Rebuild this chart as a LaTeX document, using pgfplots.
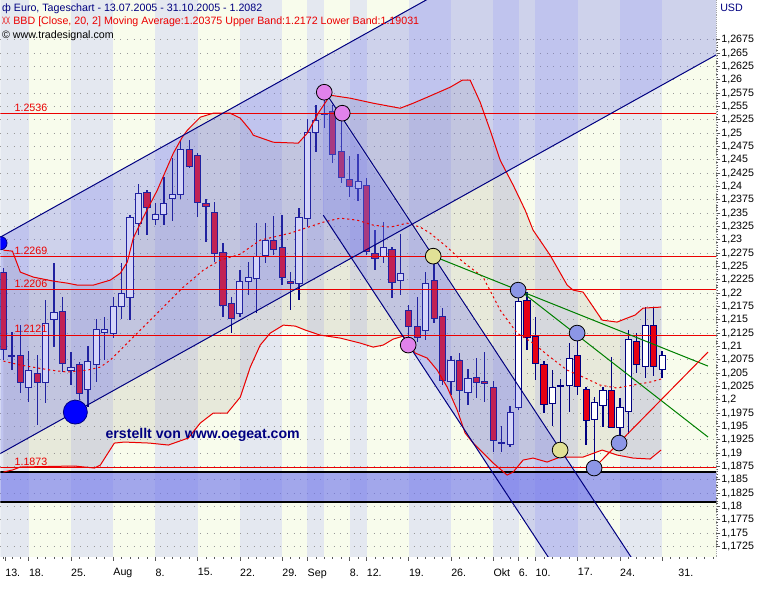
\documentclass[border=0pt]{standalone}
\usepackage{fontspec}
\setmainfont{Liberation Sans}
\usepackage{pgfplots}
\usepackage{pgfplotstable}
\pgfplotsset{compat=1.18}
\usepgfplotslibrary{fillbetween}

\definecolor{navy}{RGB}{0,0,128}
\definecolor{stripeG}{RGB}{228,232,240}
\definecolor{stripeY}{RGB}{248,252,236}
\definecolor{lred}{RGB}{235,0,0}
\definecolor{cred}{RGB}{230,0,20}
\definecolor{chan}{RGB}{110,115,235}
\definecolor{bandfill}{RGB}{150,140,130}
\definecolor{pinkm}{RGB}{225,130,235}
\definecolor{yelm}{RGB}{225,225,150}
\definecolor{lavm}{RGB}{140,150,230}
\definecolor{grn}{RGB}{0,128,0}
\newcommand{\fs}{\fontsize{8}{9.6}\selectfont}

% candles: k O H L C
\pgfplotstableread{
k O H L C
1 1.20820 1.21269 1.20557 1.20838
3 1.20239 1.20913 1.19958 1.20557
5 1.20332 1.21869 1.19939 1.21438
6 1.21513 1.22562 1.20988 1.21644
8 1.20557 1.20895 1.20276 1.20613
10 1.20201 1.21007 1.19864 1.20726
11 1.20670 1.21513 1.20332 1.21325
12 1.21269 1.21550 1.20745 1.21325
13 1.21251 1.21925 1.21157 1.21756
14 1.21756 1.22562 1.21513 1.22000
15 1.21925 1.23461 1.21494 1.23424
16 1.23312 1.24042 1.23087 1.23874
18 1.23387 1.23686 1.23274 1.23480
19 1.23480 1.24173 1.23274 1.23686
20 1.23780 1.24529 1.23349 1.23855
21 1.23855 1.24867 1.23761 1.24698
28 1.21625 1.22431 1.21550 1.22225
29 1.22225 1.22581 1.21963 1.22300
30 1.22281 1.23312 1.21625 1.22693
31 1.22712 1.23312 1.22562 1.22993
35 1.22187 1.23593 1.21869 1.23424
36 1.23405 1.25260 1.23237 1.25017
37 1.25017 1.25523 1.24642 1.25241
38 1.25354 1.25766 1.25092 1.25373
42 1.23967 1.24604 1.23724 1.24099
45 1.22693 1.23330 1.22562 1.22862
47 1.22244 1.23105 1.21963 1.22375
50 1.21307 1.22393 1.21119 1.22187
53 1.20351 1.20820 1.20089 1.20745
55 1.20145 1.20576 1.19901 1.20407
60 1.19171 1.19883 1.19114 1.19770
61 1.19864 1.22056 1.19808 1.21850
65 1.19939 1.20557 1.19508 1.20239
66 1.20257 1.20389 1.19058 1.20276
67 1.20276 1.21063 1.19770 1.20782
70 1.19639 1.20051 1.18721 1.19958
71 1.19901 1.20239 1.19489 1.20183
73 1.19489 1.20033 1.19189 1.19864
74 1.19789 1.21307 1.19358 1.21138
76 1.20632 1.21738 1.20407 1.21400
78 1.20576 1.20913 1.20407 1.20838
}\upc

\pgfplotstableread{
k O H L C
0 1.22393 1.22468 1.20745 1.20951
2 1.20838 1.21400 1.20126 1.20332
4 1.20501 1.20838 1.19527 1.20332
7 1.21663 1.21925 1.20520 1.20688
9 1.20670 1.20707 1.19995 1.20126
17 1.23892 1.23930 1.23087 1.23611
22 1.24698 1.24867 1.24342 1.24380
23 1.24586 1.24623 1.23424 1.23705
24 1.23686 1.23761 1.22956 1.23630
25 1.23518 1.23705 1.22581 1.22749
26 1.22768 1.22937 1.21550 1.21775
27 1.21813 1.21925 1.21251 1.21532
32 1.22993 1.23443 1.22712 1.22824
33 1.22862 1.23461 1.22150 1.22300
34 1.22225 1.22393 1.21681 1.22187
39 1.25410 1.25523 1.24436 1.24604
40 1.24661 1.25373 1.24061 1.24174
41 1.24136 1.24567 1.23799 1.24005
43 1.24024 1.24155 1.22712 1.22787
44 1.22749 1.23180 1.22431 1.22656
46 1.22824 1.22862 1.21906 1.22206
48 1.21681 1.21775 1.21026 1.21382
49 1.21382 1.21925 1.21082 1.21176
51 1.22244 1.22749 1.21438 1.21532
52 1.21569 1.21719 1.20276 1.20370
54 1.20745 1.20876 1.19770 1.20183
56 1.20426 1.20782 1.20033 1.20332
57 1.20351 1.20895 1.19958 1.20314
58 1.20239 1.20351 1.19021 1.19246
59 1.19208 1.19508 1.19021 1.19189
62 1.21869 1.22019 1.20932 1.21176
63 1.21194 1.21550 1.20370 1.20688
64 1.20670 1.20726 1.19752 1.19920
68 1.20838 1.21251 1.20089 1.20257
69 1.20201 1.20239 1.19152 1.19620
72 1.20183 1.20801 1.19470 1.19489
75 1.21101 1.21251 1.20501 1.20670
77 1.21400 1.21738 1.20445 1.20632
}\dnc

\pgfplotstableread{
k v
0 1.22806
1.07 1.22787
2.01 1.22393
3.55 1.22300
5.92 1.22225
7.57 1.22187
8.76 1.22150
10.65 1.22150
12.66 1.22244
13.85 1.22375
14.67 1.22581
15.38 1.23031
16.57 1.23424
18.22 1.23930
20.12 1.24623
21.18 1.24923
21.78 1.25054
23.31 1.25298
24.85 1.25373
26.86 1.25373
28.05 1.25279
29.23 1.25054
29.59 1.24960
31.95 1.24829
34.91 1.24811
35.98 1.24998
37.28 1.25373
38.70 1.25710
41.07 1.25654
43.79 1.25560
46.98 1.25466
48.52 1.25560
50.18 1.25672
52.90 1.25860
54.32 1.25991
55.27 1.25991
56.45 1.25579
57.63 1.25054
58.82 1.24492
60.36 1.24024
61.78 1.23555
62.72 1.23180
64.73 1.22712
66.75 1.22150
67.46 1.22056
68.64 1.22019
70.89 1.21494
72.66 1.21457
73.85 1.21532
74.79 1.21588
75.74 1.21719
77.87 1.21738
}\ubt

\pgfplotstableread{
k v
0 1.20726
2.01 1.20651
5.56 1.20557
7.57 1.20520
9.94 1.20557
11.48 1.20613
12.66 1.20745
13.85 1.20932
16.21 1.21307
18.58 1.21681
21.30 1.22112
23.67 1.22431
25.68 1.22618
28.05 1.22731
30.41 1.22993
33.96 1.23124
37.87 1.23330
39.88 1.23405
41.89 1.23368
43.79 1.23274
45.80 1.23237
47.81 1.23312
49.35 1.23237
50.53 1.23124
52.54 1.22862
54.44 1.22581
56.80 1.22300
58.82 1.21681
60.83 1.21251
62.72 1.21063
64.73 1.20801
66.75 1.20557
68.64 1.20426
70.65 1.20276
72.66 1.20220
74.56 1.20276
76.57 1.20332
77.87 1.20389
}\mbt

\pgfplotstableread{
k v
0 1.18646
1.07 1.18684
2.01 1.18740
8.40 1.18759
10.77 1.18721
11.48 1.18777
13.14 1.19189
14.32 1.19208
17.28 1.19189
19.53 1.19152
21.89 1.19283
23.31 1.19564
24.85 1.19752
26.51 1.19752
28.05 1.20051
29.23 1.20613
30.41 1.21026
31.60 1.21251
33.14 1.21400
34.56 1.21382
35.74 1.21307
37.51 1.21213
39.88 1.21157
42.25 1.21063
43.79 1.20988
44.97 1.21026
46.15 1.21138
47.34 1.21194
48.76 1.20876
50.18 1.20782
51.36 1.20557
52.54 1.20239
53.73 1.19808
54.67 1.19377
55.62 1.19189
56.45 1.19058
57.99 1.18815
59.64 1.18590
60.36 1.18646
61.54 1.18871
62.72 1.18908
64.38 1.18833
65.92 1.18927
68.64 1.18927
70.89 1.19058
72.66 1.18965
74.56 1.18908
76.57 1.18890
77.87 1.19058
}\lbt

\begin{document}
\begin{tikzpicture}
\begin{axis}[
  set layers,
  scale only axis,
  width=537pt, height=417.75pt,
  xmin=-0.355, xmax=84.38,
  ymin=1.170534, ymax=1.2749,
  clip mode=individual,
  clip marker paths=true,
  axis x line*=bottom,
  axis y line*=right,
  x axis line style={draw=none},
  y axis line style={draw=gray!70, densely dotted},
  tick align=outside,
  major tick length=3pt,
  minor tick length=1.5pt,
  tick style={draw=gray!70!black, line width=0.5pt},
  xtick={0.2,3,8,13,18,23,28,33,36,41,43,48,53,58,61,63,68,73,78},
  xticklabels={13.,18.,25.,Aug,8.,15.,22.,29.,Sep,8.,12.,19.,26.,Okt,6.,10.,17.,24.,\hspace*{12pt}31.},
  minor xtick={0,1,...,84},
  ytick={1.1725,1.175,1.1775,1.18,1.1825,1.185,1.1875,1.19,1.1925,1.195,1.1975,1.2,1.2025,1.205,1.2075,1.21,1.2125,1.215,1.2175,1.22,1.2225,1.225,1.2275,1.23,1.2325,1.235,1.2375,1.24,1.2425,1.245,1.2475,1.25,1.2525,1.255,1.2575,1.26,1.2625,1.265,1.2675},
  minor y tick num=4,
  ymajorgrids,
  major grid style={draw=gray!80, line width=0.6pt, dash pattern=on 0.6pt off 4.4pt},
  scaled ticks=false,
  /pgf/number format/.cd, fixed, precision=4, use comma, 1000 sep={}, assume math mode=true,
  /pgfplots/.cd,
  tick label style={font=\fs, text=black},
  xticklabel style={anchor=north west, inner sep=0pt, yshift=-5.5pt},
  yticklabel style={anchor=west, inner sep=0pt, xshift=0.8pt},
]
% background stripes
\addplot[on layer=axis background, fill=stripeG, draw=none, forget plot] coordinates {(-1,1.16)(86,1.16)(86,1.28)(-1,1.28)} -- cycle;
\addplot[on layer=axis background, fill=stripeY, draw=none, forget plot] coordinates {(3,1.16)(8,1.16)(8,1.28)(3,1.28)} -- cycle;
\addplot[on layer=axis background, fill=stripeY, draw=none, forget plot] coordinates {(13,1.16)(18,1.16)(18,1.28)(13,1.28)} -- cycle;
\addplot[on layer=axis background, fill=stripeY, draw=none, forget plot] coordinates {(23,1.16)(28,1.16)(28,1.28)(23,1.28)} -- cycle;
\addplot[on layer=axis background, fill=stripeY, draw=none, forget plot] coordinates {(33,1.16)(36,1.16)(36,1.28)(33,1.28)} -- cycle;
\addplot[on layer=axis background, fill=stripeY, draw=none, forget plot] coordinates {(38,1.16)(41,1.16)(41,1.28)(38,1.28)} -- cycle;
\addplot[on layer=axis background, fill=stripeY, draw=none, forget plot] coordinates {(43,1.16)(48,1.16)(48,1.28)(43,1.28)} -- cycle;
\addplot[on layer=axis background, fill=stripeY, draw=none, forget plot] coordinates {(53,1.16)(58,1.16)(58,1.28)(53,1.28)} -- cycle;
\addplot[on layer=axis background, fill=stripeY, draw=none, forget plot] coordinates {(61,1.16)(63,1.16)(63,1.28)(61,1.28)} -- cycle;
\addplot[on layer=axis background, fill=stripeY, draw=none, forget plot] coordinates {(68,1.16)(73,1.16)(73,1.28)(68,1.28)} -- cycle;
\addplot[on layer=axis background, fill=stripeY, draw=none, forget plot] coordinates {(78,1.16)(86,1.16)(86,1.28)(78,1.28)} -- cycle;

% Bollinger band fill
\addplot[draw=none, name path=UB, forget plot] table[x=k,y=v]{\ubt};
\addplot[draw=none, name path=LB, forget plot] table[x=k,y=v]{\lbt};
\addplot[fill=bandfill, fill opacity=0.17, draw=none, forget plot] fill between[of=UB and LB];

% wicks
\addplot[draw=none, forget plot, error bars/.cd, y dir=both, y explicit, error mark=none,
  error bar style={draw=navy, line width=1pt}]
  table[x=k, y expr={(\thisrow{H}+\thisrow{L})/2}, y error expr={(\thisrow{H}-\thisrow{L})/2}]{\upc};
\addplot[draw=none, forget plot, error bars/.cd, y dir=both, y explicit, error mark=none,
  error bar style={draw=navy, line width=1pt}]
  table[x=k, y expr={(\thisrow{H}+\thisrow{L})/2}, y error expr={(\thisrow{H}-\thisrow{L})/2}]{\dnc};
% body outlines
\addplot[draw=none, forget plot, error bars/.cd, y dir=both, y explicit, error mark=none,
  error bar style={draw=navy, line width=5.4pt}]
  table[x=k, y expr={(\thisrow{O}+\thisrow{C})/2}, y error expr={abs(\thisrow{C}-\thisrow{O})/2+0.0001}]{\upc};
\addplot[draw=none, forget plot, error bars/.cd, y dir=both, y explicit, error mark=none,
  error bar style={draw=navy, line width=5.4pt}]
  table[x=k, y expr={(\thisrow{O}+\thisrow{C})/2}, y error expr={abs(\thisrow{C}-\thisrow{O})/2+0.0001}]{\dnc};
% body fills
\addplot[draw=none, forget plot, error bars/.cd, y dir=both, y explicit, error mark=none,
  error bar style={draw=white, line width=3.9pt}]
  table[x=k, y expr={(\thisrow{O}+\thisrow{C})/2}, y error expr={max(abs(\thisrow{C}-\thisrow{O})/2-0.0001,0)}]{\upc};
\addplot[draw=none, forget plot, error bars/.cd, y dir=both, y explicit, error mark=none,
  error bar style={draw=cred, line width=3.9pt}]
  table[x=k, y expr={(\thisrow{O}+\thisrow{C})/2}, y error expr={max(abs(\thisrow{C}-\thisrow{O})/2-0.0001,0)}]{\dnc};

% channel fills
\addplot[fill=chan, fill opacity=0.3, draw=none, forget plot] coordinates {(-2.722,1.228413) (89.59,1.309807) (89.59,1.269241) (-2.722,1.187847)} -- cycle;
\addplot[fill=chan, fill opacity=0.3, draw=none, forget plot] coordinates {(37.87,1.25766) (77.66,1.16248) (67.85,1.16248) (37.87,1.23461)} -- cycle;
% support zone
\addplot[fill=chan, fill opacity=0.62, draw=none, forget plot] coordinates {(-1,1.18084)(86,1.18084)(86,1.18646)(-1,1.18646)} -- cycle;
\addplot[black, line width=0.9pt, forget plot] coordinates {(-1,1.18084)(86,1.18084)};
\addplot[black, line width=0.9pt, forget plot] coordinates {(-1,1.18646)(86,1.18646)};

% horizontal levels
\addplot[lred, line width=0.8pt, forget plot] coordinates {(-1,1.2536)(86,1.2536)};
\addplot[lred, line width=0.8pt, forget plot] coordinates {(-1,1.2269)(86,1.2269)};
\addplot[lred, line width=0.8pt, forget plot] coordinates {(-1,1.2206)(86,1.2206)};
\addplot[lred, line width=0.8pt, forget plot] coordinates {(-1,1.2121)(86,1.2121)};
\addplot[lred, line width=0.8pt, forget plot] coordinates {(-1,1.1873)(86,1.1873)};

% Bollinger lines
\addplot[lred, line width=0.75pt, forget plot] table[x=k,y=v]{\ubt};
\addplot[lred, line width=0.75pt, forget plot] table[x=k,y=v]{\lbt};
\addplot[lred, line width=0.75pt, dash pattern=on 1.6pt off 2.2pt, forget plot] table[x=k,y=v]{\mbt};

% channel lines
\addplot[navy, line width=0.75pt, forget plot] coordinates {(-2.722,1.228413) (89.59,1.309807)};
\addplot[navy, line width=0.75pt, forget plot] coordinates {(-2.722,1.187847) (89.59,1.269241)};
\addplot[navy, line width=0.75pt, forget plot] coordinates {(38.11,1.25766) (77.66,1.16248)};
\addplot[navy, line width=0.75pt, forget plot] coordinates {(37.87,1.23461) (67.85,1.16248)};
% trend lines
\addplot[grn, line width=0.75pt, forget plot] coordinates {(50.89,1.22693) (83.43,1.20632)};
\addplot[grn, line width=0.75pt, forget plot] coordinates {(60.95,1.22075) (83.43,1.19302)};
\addplot[lred, line width=0.75pt, forget plot] coordinates {(69.94,1.18721) (83.43,1.20895)};

% markers
\addplot[only marks, mark=*, mark size=5pt, mark options={fill=blue, draw=navy, line width=0.6pt}, forget plot] coordinates {(-0.355,1.22937)};
\addplot[only marks, mark=*, mark size=9pt, mark options={fill=blue, draw=navy, line width=0.6pt}, forget plot] coordinates {(8.52,1.19770)};
\addplot[only marks, mark=*, mark size=5.9pt, mark options={fill=pinkm, draw=black, line width=0.6pt}, forget plot] coordinates {(37.99,1.25766) (40.12,1.25373) (47.93,1.21026)};
\addplot[only marks, mark=*, mark size=5.9pt, mark options={fill=yelm, draw=black, line width=0.6pt}, forget plot] coordinates {(50.89,1.22693) (65.92,1.19058)};
\addplot[only marks, mark=*, mark size=5.9pt, mark options={fill=lavm, draw=black, line width=0.6pt}, forget plot] coordinates {(60.95,1.22056) (67.93,1.21251) (69.94,1.18721) (72.90,1.19189)};

% level labels
\node[anchor=base west, inner sep=0pt, font=\fs, text=lred, yshift=1.7pt] at (axis cs:1.30,1.2536) {1.2536};
\node[anchor=base west, inner sep=0pt, font=\fs, text=lred, yshift=1.7pt] at (axis cs:1.30,1.2269) {1.2269};
\node[anchor=base west, inner sep=0pt, font=\fs, text=lred, yshift=1.7pt] at (axis cs:1.30,1.2206) {1.2206};
\node[anchor=base west, inner sep=0pt, font=\fs, text=lred, yshift=1.7pt] at (axis cs:1.30,1.2121) {1.2121};
\node[anchor=base west, inner sep=0pt, font=\fs, text=lred, yshift=1.7pt] at (axis cs:1.30,1.1873) {1.1873};

% header
\node[anchor=base west, inner sep=0pt, font=\fs, text=navy] at (axis cs:-0.18,1.272838) {ф};
\node[anchor=base west, inner sep=0pt, font=\fs, text=navy] at (axis cs:1.22,1.272838) {Euro, Tageschart - 13.07.2005 - 31.10.2005 - 1.2082};
\node[anchor=base west, inner sep=0pt, font=\fs, text=lred] at (axis cs:-0.18,1.270402) {\scalebox{0.55}[1]{XX}};
\node[anchor=base west, inner sep=0pt, font=\fs, text=lred] at (axis cs:1.15,1.270402) {BBD [Close, 20, 2] Moving Average:1.20375 Upper Band:1.2172 Lower Band:1.19031};
\node[anchor=base west, inner sep=0pt, font=\fs, text=black] at (axis cs:-0.18,1.267778) {© www.tradesignal.com};
\node[anchor=base west, inner sep=0pt, font=\fs, text=navy] at (axis cs:84.85,1.272838) {USD};
\node[anchor=base west, inner sep=0pt, font=\fontsize{10.6}{12}\selectfont\bfseries, text=navy] at (axis cs:12.07,1.19283) {erstellt von www.oegeat.com};

% picture extent
\path (axis cs:-0.355,1.2749) rectangle (axis cs:91.48,1.164163);
\end{axis}
\end{tikzpicture}
\end{document}
